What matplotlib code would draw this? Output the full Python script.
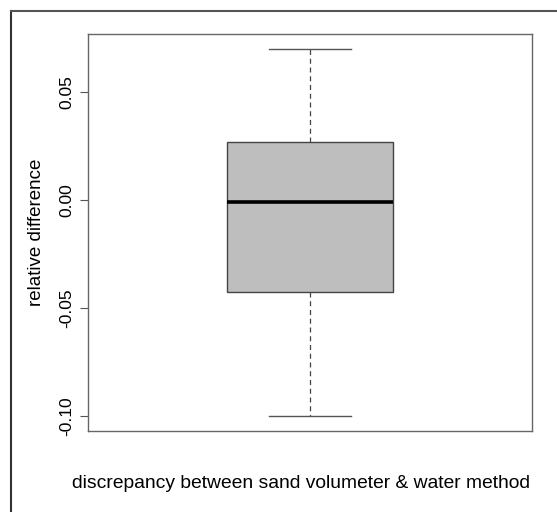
import matplotlib.pyplot as plt
from matplotlib.lines import Line2D

plt.rcParams['font.family'] = ['Liberation Sans', 'DejaVu Sans']

# five-number summary
label = "discrepancy between sand volumeter & water method"
ylabel = "relative difference"
whislo = -0.100
q1 = -0.0427
med = -0.0011
q3 = 0.0267
whishi = 0.0700
yticks = [-0.10, -0.05, 0.00, 0.05]
ytick_labels = ["-0.10", "-0.05", "0.00", "0.05"]

stats = [dict(whislo=whislo, q1=q1, med=med, q3=q3, whishi=whishi, fliers=[])]

fig = plt.figure(figsize=(5.57, 5.12), dpi=100)
ax = fig.add_axes([88/557, 1 - 431/512, (532-88)/557, (431-34)/512])

ax.bxp(stats, positions=[1], widths=0.372, showfliers=False, patch_artist=True,
       boxprops=dict(facecolor='#bebebe', edgecolor='#444444', linewidth=1.0),
       medianprops=dict(color='black', linewidth=2.6),
       whiskerprops=dict(color='#444444', linestyle=(0, (4, 3)), linewidth=0.9),
       capprops=dict(color='#555555', linewidth=1.0),
       capwidths=0.185)

rng = whishi - whislo
ax.set_ylim(whislo - 0.04*rng, whishi + 0.04*rng)
ax.set_xlim(0.5, 1.5)
ax.set_xticks([])
ax.set_yticks(yticks)
ax.set_yticklabels(ytick_labels, rotation=90, va='center', fontsize=12.5)
ax.tick_params(axis='y', length=6, width=0.8, color='#555555', pad=4)
for s in ax.spines.values():
    s.set_color('#666666')
    s.set_linewidth(1.0)

ax.set_ylabel(ylabel, fontsize=13.5, labelpad=10)
fig.text(301/557, 1 - 484/512, label, ha='center', va='center', fontsize=13.9)

# outer frame (top and left edges only visible)
fig.add_artist(Line2D([11/557, 11/557], [0, 1 - 11/512], color='#333333', linewidth=1.5, transform=fig.transFigure))
fig.add_artist(Line2D([11/557, 1], [1 - 11/512, 1 - 11/512], color='#555555', linewidth=1.5, transform=fig.transFigure))

fig.savefig('out.png', dpi=100)
